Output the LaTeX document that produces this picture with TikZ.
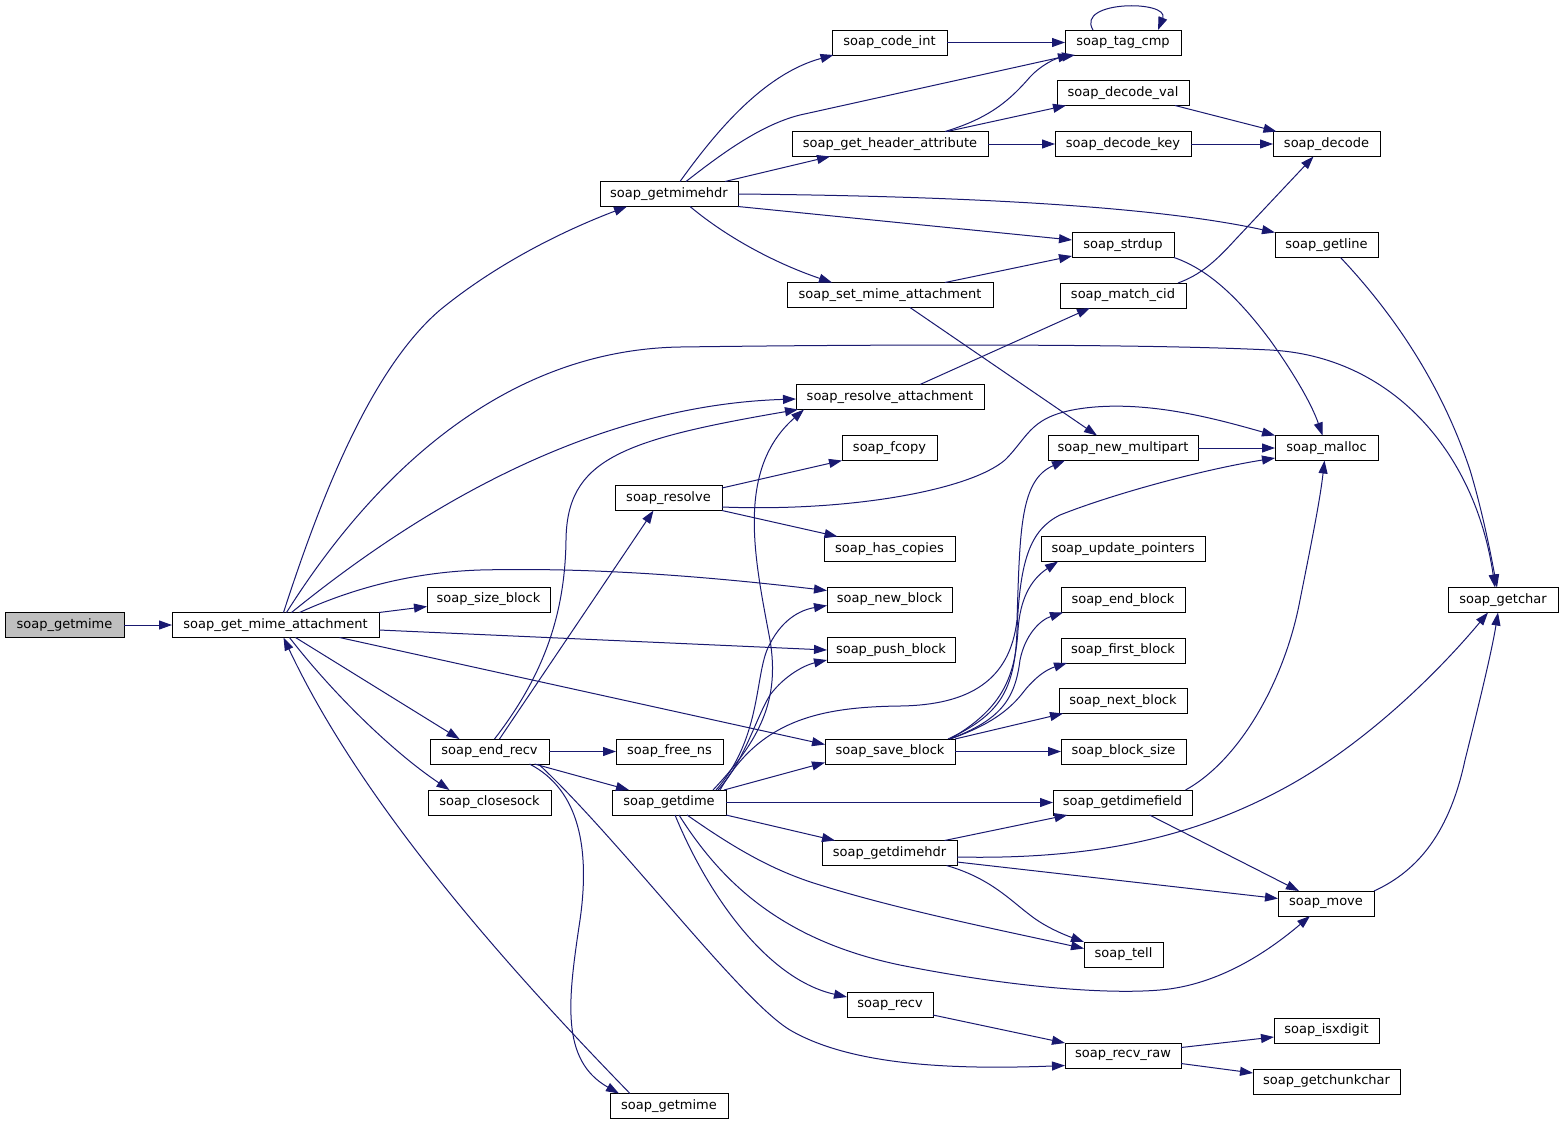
\documentclass[tikz,border=0pt]{standalone}
\usepackage{fontspec}
\setmainfont{DejaVu Sans}
\usetikzlibrary{arrows.meta,calc}
\definecolor{edgeblue}{HTML}{191970}
\definecolor{rootgray}{HTML}{BFBFBF}
\begin{document}
\begin{tikzpicture}[x=1pt,y=-1pt,
  fn/.style={draw=black, line width=0.9pt, fill=white, minimum height=25pt, inner sep=0pt, outer sep=0pt, font=\fontsize{13}{15}\selectfont},
  call/.style={draw=edgeblue, line width=1pt, -{Triangle[length=13pt,width=9pt]}}]
\fill[white] (0,0) rectangle (1563,1125);
\useasboundingbox (0,0) rectangle (1563,1125);

% nodes
\node[fn, fill=rootgray, minimum width=119pt] (root) at (64.5,625) {soap\_getmime};
\node[fn, minimum width=207pt] (gma) at (275.5,625) {soap\_get\_mime\_attachment};
\node[fn, minimum width=138pt] (getmimehdr) at (669,194) {soap\_getmimehdr};
\node[fn, minimum width=115pt] (code_int) at (889.5,42.5) {soap\_code\_int};
\node[fn, minimum width=196pt] (gha) at (890,144) {soap\_get\_header\_attribute};
\node[fn, minimum width=116pt] (tag_cmp) at (1123,42.5) {soap\_tag\_cmp};
\node[fn, minimum width=132pt] (decode_val) at (1123,93) {soap\_decode\_val};
\node[fn, minimum width=136pt] (decode_key) at (1123,144) {soap\_decode\_key};
\node[fn, minimum width=107pt] (decode) at (1326.5,144) {soap\_decode};
\node[fn, minimum width=103pt] (getline) at (1326.5,245) {soap\_getline};
\node[fn, minimum width=102pt] (strdup) at (1123,245) {soap\_strdup};
\node[fn, minimum width=126pt] (match_cid) at (1123,295.5) {soap\_match\_cid};
\node[fn, minimum width=206pt] (set_mime_attachment) at (890,295) {soap\_set\_mime\_attachment};
\node[fn, minimum width=188pt] (resolve_attachment) at (890,397) {soap\_resolve\_attachment};
\node[fn, minimum width=95pt] (fcopy) at (889.5,448) {soap\_fcopy};
\node[fn, minimum width=150pt] (new_multipart) at (1123,448) {soap\_new\_multipart};
\node[fn, minimum width=103pt] (malloc) at (1326.5,448) {soap\_malloc};
\node[fn, minimum width=107pt] (resolve) at (668.5,498) {soap\_resolve};
\node[fn, minimum width=131pt] (has_copies) at (889.5,549) {soap\_has\_copies};
\node[fn, minimum width=164pt] (update_pointers) at (1123,549) {soap\_update\_pointers};
\node[fn, minimum width=125pt] (new_block) at (889.5,599.5) {soap\_new\_block};
\node[fn, minimum width=124pt] (end_block) at (1123,600) {soap\_end\_block};
\node[fn, minimum width=110pt] (getchar) at (1503,600) {soap\_getchar};
\node[fn, minimum width=123pt] (size_block) at (488.5,599.5) {soap\_size\_block};
\node[fn, minimum width=128pt] (push_block) at (891,650) {soap\_push\_block};
\node[fn, minimum width=124pt] (first_block) at (1123,650.5) {soap\_first\_block};
\node[fn, minimum width=128pt] (next_block) at (1123,701) {soap\_next\_block};
\node[fn, minimum width=130pt] (save_block) at (890,751.5) {soap\_save\_block};
\node[fn, minimum width=125pt] (block_size) at (1123.5,751.5) {soap\_block\_size};
\node[fn, minimum width=119pt] (end_recv) at (489.5,751.5) {soap\_end\_recv};
\node[fn, minimum width=107pt] (free_ns) at (669.5,751.5) {soap\_free\_ns};
\node[fn, minimum width=123pt] (closesock) at (489.5,802.5) {soap\_closesock};
\node[fn, minimum width=114pt] (getdime) at (669,802.5) {soap\_getdime};
\node[fn, minimum width=139pt] (getdimefield) at (1122.5,802.5) {soap\_getdimefield};
\node[fn, minimum width=135pt] (getdimehdr) at (889.5,853) {soap\_getdimehdr};
\node[fn, minimum width=96pt] (move) at (1326,903.5) {soap\_move};
\node[fn, minimum width=79pt] (tell) at (1123.5,954.5) {soap\_tell};
\node[fn, minimum width=86pt] (recv) at (890,1005) {soap\_recv};
\node[fn, minimum width=105pt] (isxdigit) at (1326.5,1030.5) {soap\_isxdigit};
\node[fn, minimum width=116pt] (recv_raw) at (1123,1055.5) {soap\_recv\_raw};
\node[fn, minimum width=147pt] (getchunkchar) at (1326.5,1081.5) {soap\_getchunkchar};
\node[fn, minimum width=118pt] (getmime2) at (669,1106) {soap\_getmime};

% soap_get_mime_attachment
\draw[call] (root.east) -- (gma.west);
\draw[call] ([xshift=8pt]gma.north) .. controls (320,500) and (370,370) .. (440,310) .. controls (495,265) and (560,232) .. ([xshift=-42pt]getmimehdr.south);
\draw[call] ([xshift=11pt]gma.north) .. controls (370,480) and (500,350) .. (680,347) .. controls (900,344) and (1150,344) .. (1270,350) .. controls (1390,356) and (1475,450) .. ([xshift=-8pt]getchar.north);
\draw[call] ([xshift=16pt]gma.north) .. controls (430,500) and (600,405) .. ([yshift=-2pt]resolve_attachment.west);
\draw[call] ([xshift=24pt]gma.north) .. controls (360,585) and (420,572) .. (480,570) .. controls (600,567) and (720,578) .. ([yshift=9pt]new_block.west);
\draw[call] (gma.north east) -- ([yshift=-7pt]size_block.west);
\draw[call] ([yshift=-5pt]gma.east) -- (push_block.west);
\draw[call] ([xshift=64pt]gma.south) -- ([yshift=7pt]save_block.west);
\draw[call] ([xshift=20pt]gma.south) -- ([xshift=-30pt]end_recv.north);
\draw[call] ([xshift=14pt]gma.south) .. controls (330,690) and (390,750) .. ([xshift=-40pt]closesock.north);
\draw[call] ([xshift=-39pt]getmime2.north) .. controls (500,960) and (360,800) .. ([xshift=8pt]gma.south);

% soap_end_recv
\draw[call] (end_recv.east) -- (free_ns.west);
\draw[call] ([xshift=45pt]end_recv.south) -- ([xshift=-40pt]getdime.north);
\draw[call] ([xshift=40pt]end_recv.south) .. controls (580,790) and (590,850) .. (580,920) .. controls (568,1000) and (560,1060) .. ([xshift=-50pt]getmime2.north);
\draw[call] ([xshift=49pt]end_recv.south) .. controls (620,840) and (740,1000) .. (790,1030) .. controls (850,1065) and (950,1070) .. ([yshift=-10pt]recv_raw.west);
\draw[call] ([xshift=5pt]end_recv.north) .. controls (540,680) and (565,620) .. (566,540) .. controls (567,460) and (620,440) .. ([xshift=2pt]resolve_attachment.south west);
\draw[call] ([xshift=10pt]end_recv.north) -- ([xshift=-15pt]resolve.south);

% soap_getmimehdr
\draw[call] ([xshift=11pt]getmimehdr.north) .. controls (710,140) and (760,75) .. ([xshift=-56pt]code_int.south);
\draw[call] ([xshift=17pt]getmimehdr.north) .. controls (720,155) and (760,125) .. (800,115) -- ([xshift=-52pt]tag_cmp.south);
\draw[call] ([xshift=56pt]getmimehdr.north) -- ([xshift=-60pt]gha.south);
\draw[call] (getmimehdr.east) .. controls (950,196) and (1150,205) .. (getline.north west);
\draw[call] (getmimehdr.south east) -- ([yshift=5pt]strdup.west);
\draw[call] ([xshift=21pt]getmimehdr.south) .. controls (730,240) and (780,265) .. ([xshift=-58pt]set_mime_attachment.north);

% upper right
\draw[call] (code_int.east) -- (tag_cmp.west);
\draw[call] ([xshift=-30pt]tag_cmp.north) .. controls (1075,0) and (1170,0) .. ([xshift=35pt]tag_cmp.north);
\draw[call] ([xshift=55pt]gha.north) .. controls (990,118) and (1010,100) .. (1030,77) .. controls (1040,66) and (1055,58) .. ([xshift=-48pt]tag_cmp.south);
\draw[call] ([xshift=57pt]gha.north) -- ([xshift=-57pt]decode_val.south);
\draw[call] (gha.east) -- (decode_key.west);
\draw[call] ([xshift=52pt]decode_val.south) -- ([xshift=-50pt]decode.north);
\draw[call] (decode_key.east) -- (decode.west);
\draw[call] ([xshift=55pt]set_mime_attachment.north) -- ([yshift=-11pt]strdup.west);
\draw[call] ([xshift=20pt]set_mime_attachment.south) -- ([xshift=-26pt]new_multipart.north);
\draw[call] (strdup.south east) .. controls (1210,270) and (1240,300) .. (1270,340) .. controls (1295,375) and (1312,405) .. ([xshift=-4pt]malloc.north);
\draw[call] ([xshift=55pt]match_cid.north) .. controls (1200,275) and (1215,262) .. (1235,240) -- ([xshift=-13pt]decode.south);
\draw[call] ([xshift=14pt]getline.south) .. controls (1390,310) and (1440,380) .. (1470,470) .. controls (1482,510) and (1490,550) .. ([xshift=-6pt]getchar.north);
\draw[call] ([xshift=30pt]resolve_attachment.north) -- ([xshift=-33pt]match_cid.south);
\draw[call] (new_multipart.east) -- (malloc.west);

% soap_resolve
\draw[call] ([yshift=-9pt]resolve.east) .. controls (850,512) and (970,490) .. (1005,460) .. controls (1030,435) and (1030,415) .. (1085,408) .. controls (1150,400) and (1220,420) .. (malloc.north west);
\draw[call] ([yshift=10pt]resolve.east) -- (fcopy.south west);
\draw[call] (resolve.south east) -- ([xshift=-52pt]has_copies.north);

% soap_getdime
\draw[call] ([xshift=44pt]getdime.north) .. controls (760,740) and (780,700) .. (770,640) .. controls (755,560) and (735,470) .. ([xshift=8pt]resolve_attachment.south west);
\draw[call] ([xshift=47pt]getdime.north) .. controls (760,740) and (755,680) .. (767,650) .. controls (780,620) and (800,610) .. ([yshift=-6pt]new_block.west);
\draw[call] ([xshift=49pt]getdime.north) .. controls (745,760) and (755,720) .. (770,695) .. controls (785,675) and (805,665) .. ([yshift=-10pt]push_block.west);
\draw[call] ([xshift=55pt]getdime.north) -- ([yshift=-11pt]save_block.west);
\draw[call] ([xshift=51pt]getdime.north) .. controls (760,720) and (820,707) .. (900,706) .. controls (970,705) and (1010,680) .. (1017,620) .. controls (1020,530) and (1020,480) .. ([xshift=-58pt]new_multipart.south);
\draw[call] (getdime.east) -- (getdimefield.west);
\draw[call] (getdime.south east) -- ([xshift=-54.5pt]getdimehdr.north);
\draw[call] ([xshift=18pt]getdime.south) .. controls (730,845) and (770,870) .. (820,885) .. controls (900,910) and (1000,930) .. ([yshift=6pt]tell.west);
\draw[call] ([xshift=10pt]getdime.south) .. controls (720,880) and (780,940) .. (900,965) .. controls (1000,985) and (1100,995) .. (1160,990) .. controls (1220,985) and (1270,950) .. ([xshift=-16pt]move.south);
\draw[call] ([xshift=6pt]getdime.south) .. controls (710,900) and (770,980) .. ([yshift=8pt]recv.west);

% soap_save_block
\draw[call] ([xshift=-5pt]save_block.north east) .. controls (1000,710) and (1015,680) .. (1018,630) .. controls (1020,600) and (1030,580) .. ([xshift=-65pt]update_pointers.south);
\draw[call] ([xshift=-5pt]save_block.north east) .. controls (1000,720) and (1015,700) .. (1020,660) .. controls (1025,635) and (1040,620) .. ([xshift=-60pt]end_block.south);
\draw[call] ([xshift=-5pt]save_block.north east) .. controls (990,725) and (1010,710) .. (1025,690) .. controls (1035,678) and (1045,670) .. ([xshift=-56pt]first_block.south);
\draw[call] (save_block.north east) -- ([xshift=-60pt]next_block.south);
\draw[call] (save_block.east) -- (block_size.west);
\draw[call] ([xshift=-7pt]save_block.north east) .. controls (1000,715) and (1015,690) .. (1017,630) .. controls (1020,560) and (1030,530) .. (1060,515) .. controls (1110,495) and (1200,470) .. ([yshift=-10pt]malloc.west);

% soap_getdimefield / getdimehdr / move
\draw[call] ([xshift=63pt]getdimefield.north) .. controls (1240,760) and (1285,680) .. (1300,600) .. controls (1312,540) and (1320,500) .. ([xshift=-2pt]malloc.south);
\draw[call] ([xshift=27pt]getdimefield.south) -- ([xshift=-27pt]move.north);
\draw[call] ([xshift=55pt]getdimehdr.north) -- ([xshift=-55pt]getdimefield.south);
\draw[call] ([yshift=-4pt]getdimehdr.east) .. controls (1100,860) and (1200,835) .. (1290,785) .. controls (1370,740) and (1440,670) .. ([xshift=-15pt]getchar.south);
\draw[call] ([yshift=-9pt]getdimehdr.east) -- ([yshift=5pt]move.west);
\draw[call] ([xshift=57pt]getdimehdr.south) .. controls (990,878) and (1010,900) .. (1030,915) .. controls (1045,927) and (1065,935) .. (tell.north west);
\draw[call] (move.north east) .. controls (1420,870) and (1450,830) .. (1465,760) .. controls (1480,700) and (1492,650) .. ([xshift=-5pt]getchar.south);

% soap_recv
\draw[call] ([yshift=-10pt]recv.east) -- (recv_raw.north west);
\draw[call] ([yshift=8pt]recv_raw.east) -- ([yshift=-6.5pt]isxdigit.west);
\draw[call] ([yshift=-8pt]recv_raw.east) -- ([yshift=8.5pt]getchunkchar.west);
\end{tikzpicture}
\end{document}
